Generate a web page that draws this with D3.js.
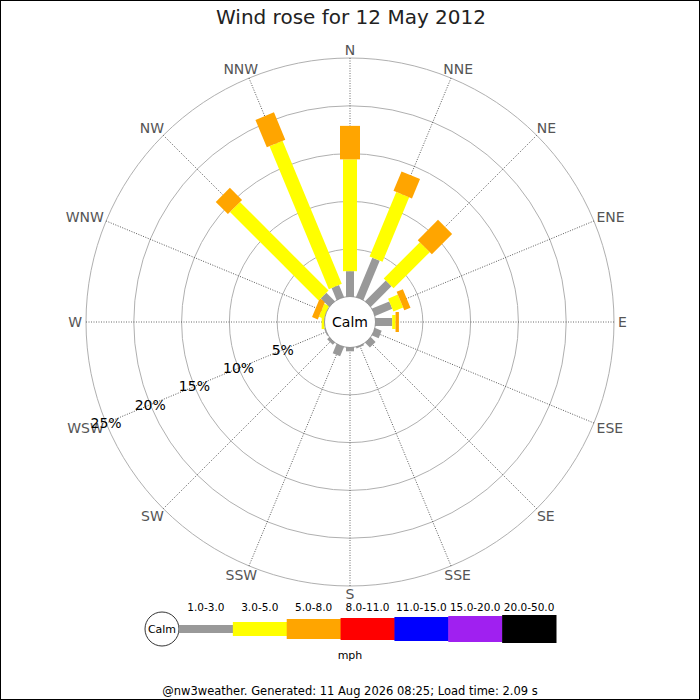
<!DOCTYPE html>
<html>
<head>
<meta charset="utf-8">
<script src="https://cdn.jsdelivr.net/npm/d3@7"></script>
<style>
  body { margin: 0; background: #fff; }
  svg { font-family: "DejaVu Sans", sans-serif; display: block; }
</style>
</head>
<body>
<svg id="chart" width="700" height="700"></svg>
<script>
// directions, clockwise from north
const directions = ['N', 'NNE', 'NE', 'ENE', 'E', 'ESE', 'SE', 'SSE', 'S', 'SSW', 'SW', 'WSW', 'W', 'WNW', 'NW', 'NNW'];

// speed bins (mph) and their colours
const speedBins = ['1.0-3.0', '3.0-5.0', '5.0-8.0', '8.0-11.0', '11.0-15.0', '15.0-20.0', '20.0-50.0'];
const binColors = ['#999999', '#ffff00', '#ffa500', '#ff0000', '#0000ff', '#a020f0', '#000000'];

// percentage of the day per direction, one array per speed bin
const pct1to3 = [2.7, 4.5, 3.1, 2.0, 1.8, 0.8, 0.75, 0.2, 0.45, 1.1, 0.35, 0.15, 0.05, 0.05, 1.3, 1.4];
const pct3to5 = [11.7, 7.3, 5.35, 1.1, 0.35, 0, 0, 0, 0, 0, 0, 0, 0.3, 0.55, 13.1, 16.2];
const pct5to8 = [3.5, 2.2, 3.0, 0.7, 0.35, 0, 0, 0, 0, 0, 0, 0, 0, 0.65, 1.8, 3.1];
const pct8to11 = [0, 0, 0, 0, 0, 0, 0, 0, 0, 0, 0, 0, 0, 0, 0, 0];
const pct11to15 = [0, 0, 0, 0, 0, 0, 0, 0, 0, 0, 0, 0, 0, 0, 0, 0];
const pct15to20 = [0, 0, 0, 0, 0, 0, 0, 0, 0, 0, 0, 0, 0, 0, 0, 0];
const pct20to50 = [0, 0, 0, 0, 0, 0, 0, 0, 0, 0, 0, 0, 0, 0, 0, 0];

const ringTicks = [5, 10, 15, 20, 25];

const title = 'Wind rose for 12 May 2012';
const footer = '@nw3weather. Generated: 11 Aug 2026 08:25; Load time: 2.09 s';

const series = [pct1to3, pct3to5, pct5to8, pct8to11, pct11to15, pct15to20, pct20to50];
const barWidths = [8, 14, 20, 22, 24, 26, 28];

const cx = 350, cy = 322;
const calmR = 25.5;

const svg = d3.select('#chart');

const rScale = d3.scaleLinear().domain([0, 25]).range([25, 264]);
const angle = d3.scalePoint().domain(directions).range([0, 337.5]);

// border
svg.append('rect')
    .attr('x', 0.5).attr('y', 0.5)
    .attr('width', 699).attr('height', 699)
    .attr('fill', 'white')
    .attr('stroke', 'black')

svg.append('text')
    .text(title)
    .attr('x', 351).attr('y', 24)
    .attr('text-anchor', 'middle')
    .attr('font-size', 20)
    .attr('fill', '#222')

const rose = svg.append('g').attr('transform', 'translate(' + cx + ',' + cy + ')');

// rings
rose.append('g').attr('class', 'rings')
    .selectAll('circle')
    .data(ringTicks)
    .enter()
    .append('circle')
    .attr('r', d => rScale(d))
    .attr('fill', 'none')
    .attr('stroke', '#b0b0b0')
    .attr('stroke-width', 1)

// spokes
rose.append('g').attr('class', 'spokes')
    .selectAll('line')
    .data(directions)
    .enter()
    .append('line')
    .attr('y1', -calmR)
    .attr('y2', -rScale(25))
    .attr('transform', d => 'rotate(' + angle(d) + ')')
    .attr('stroke', '#444')
    .attr('stroke-width', 0.8)
    .attr('stroke-dasharray', '1,1.5')

// stacked bars
const stacked = directions.map((dir, i) => {
    let cum = 0;
    return series.map((s, b) => {
        const seg = { dir: dir, bin: b, start: cum, end: cum + s[i] };
        cum += s[i];
        return seg;
    }).filter(d => d.end > d.start);
});

rose.append('g').attr('class', 'bars')
    .selectAll('g')
    .data(stacked)
    .enter()
    .append('g')
    .attr('transform', (d, i) => 'rotate(' + angle(directions[i]) + ')')
    .selectAll('rect')
    .data(d => d)
    .enter()
    .append('rect')
    .attr('x', d => -barWidths[d.bin] / 2)
    .attr('width', d => barWidths[d.bin])
    .attr('y', d => -rScale(d.end))
    .attr('height', d => rScale(d.end) - rScale(d.start))
    .attr('fill', d => binColors[d.bin])

// calm circle
rose.append('circle')
    .attr('r', calmR)
    .attr('fill', 'white')
    .attr('stroke', '#888')
    .attr('stroke-width', 0.8)

rose.append('text')
    .text('Calm')
    .attr('y', 5)
    .attr('text-anchor', 'middle')
    .attr('font-size', 14)

// direction labels, centred and pushed out by half their width on the sides
const dirLabels = rose.append('g').attr('class', 'dir-labels')
    .selectAll('text')
    .data(directions)
    .enter()
    .append('text')
    .text(d => d)
    .attr('text-anchor', 'middle')
    .attr('font-size', 14)
    .attr('fill', '#555')

dirLabels.each(function (d) {
    const a = angle(d) * Math.PI / 180;
    const w = this.getComputedTextLength();
    const s = Math.sin(a), c = Math.cos(a);
    const x = 268 * s + (w / 2) * s;
    const y = -(272 + 4 * Math.abs(s)) * c;
    d3.select(this).attr('x', x).attr('y', y + 5);
})

// percentage labels along WSW
const labelAngle = angle('WSW') * Math.PI / 180;
rose.append('g').attr('class', 'pct-labels')
    .selectAll('text')
    .data(ringTicks)
    .enter()
    .append('text')
    .text(d => d + '%')
    .attr('x', d => rScale(d) * Math.sin(labelAngle))
    .attr('y', d => -rScale(d) * Math.cos(labelAngle) + 5)
    .attr('text-anchor', 'middle')
    .attr('font-size', 14)
    .attr('fill', 'black')

// legend
const legX = d3.scaleLinear().domain([0, speedBins.length]).range([179, 556]);
const legY = 629;
const legend = svg.append('g').attr('class', 'legend');

legend.append('circle')
    .attr('cx', 162).attr('cy', legY)
    .attr('r', 17)
    .attr('fill', 'white')
    .attr('stroke', 'black')
    .attr('stroke-width', 0.8)

legend.append('text')
    .text('Calm')
    .attr('x', 162).attr('y', legY + 4)
    .attr('text-anchor', 'middle')
    .attr('font-size', 11)

legend.selectAll('rect')
    .data(speedBins)
    .enter()
    .append('rect')
    .attr('x', (d, i) => legX(i))
    .attr('width', (d, i) => legX(i + 1) - legX(i) + 0.5)
    .attr('y', (d, i) => legY - barWidths[i] / 2)
    .attr('height', (d, i) => barWidths[i])
    .attr('fill', (d, i) => binColors[i])

legend.selectAll('text.bin')
    .data(speedBins)
    .enter()
    .append('text')
    .attr('class', 'bin')
    .text(d => d)
    .attr('x', (d, i) => (legX(i) + legX(i + 1)) / 2)
    .attr('y', 611)
    .attr('text-anchor', 'middle')
    .attr('font-size', 10.5)

legend.append('text')
    .text('mph')
    .attr('x', 350).attr('y', 659)
    .attr('text-anchor', 'middle')
    .attr('font-size', 11)

svg.append('text')
    .text(footer)
    .attr('x', 350).attr('y', 695)
    .attr('text-anchor', 'middle')
    .attr('font-size', 11.5)
</script>
</body>
</html>
